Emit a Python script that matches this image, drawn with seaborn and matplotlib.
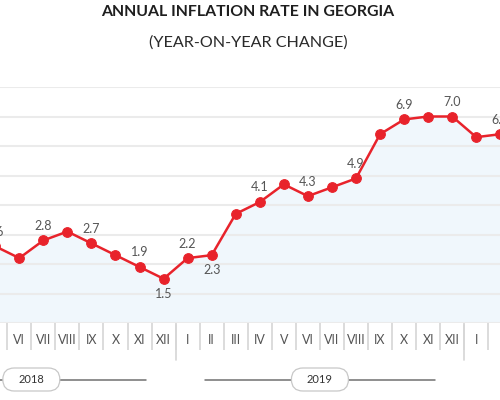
import matplotlib
matplotlib.use("Agg")
import numpy as np
import pandas as pd
import seaborn as sns
import matplotlib.pyplot as plt
from matplotlib.patches import FancyBboxPatch
from matplotlib.transforms import blended_transform_factory, IdentityTransform

# ---- data ----
months = ["V", "VI", "VII", "VIII", "IX", "X", "XI", "XII",
          "I", "II", "III", "IV", "V", "VI", "VII", "VIII", "IX", "X", "XI", "XII",
          "I", "II"]
years = [2018] * 8 + [2019] * 12 + [2020] * 2
inflation = [2.6, 2.2, 2.8, 3.1, 2.7, 2.3, 1.9, 1.5,
             2.2, 2.3, 3.7, 4.1, 4.7, 4.3, 4.6, 4.9, 6.4, 6.9, 7.0, 7.0,
             6.3, 6.4]
label_side = ["above", None, "above", None, "above", None, "above", "below",
              "above", "below", None, "above", None, "above", None, "above", None, "above", None, "above",
              None, "above"]
year_names = ["2018", "2019"]

title = "ANNUAL INFLATION RATE IN GEORGIA"
subtitle = "(YEAR-ON-YEAR CHANGE)"

df = pd.DataFrame({"idx": np.arange(len(months)), "month": months,
                   "year": years, "value": inflation})

sns.set_theme(style="white")
plt.rcParams["font.family"] = ["Lato", "DejaVu Sans"]

RED = "#e8232b"
FILL = "#f0f7fc"
GRID = "#ebebeb"
TXT = "#555555"

fig = plt.figure(figsize=(5, 4), dpi=100)
ax = fig.add_axes([0, 1 - 323 / 400, 1, 236 / 400])

ax.fill_between(df["idx"], df["value"], 0, color=FILL, zorder=1, lw=0)
sns.lineplot(data=df, x="idx", y="value", ax=ax, color=RED, lw=1.8,
             marker="o", markersize=7, markeredgecolor=RED, zorder=4)

ax.set_yticks(range(0, 9))
ax.yaxis.grid(True, color=GRID, lw=1.5, zorder=2)
ax.set_axisbelow(False)
for gl in ax.get_ygridlines():
    gl.set_zorder(2)
ax.set_yticklabels([])
ax.tick_params(axis="y", length=0)
for s in ax.spines.values():
    s.set_visible(False)
ax.set_xlabel("")
ax.set_ylabel("")

ax.set_xticks(df["idx"])
ax.set_xticklabels(df["month"], color=TXT, fontsize=9)
ax.set_xticks(np.arange(-0.5, len(months) + 0.5, 1), minor=True)
ax.tick_params(axis="x", which="major", length=0, pad=8)
ax.tick_params(axis="x", which="minor", length=19.5, width=1.2, color="#d6d6d6",
               direction="out", bottom=True)
ax.set_ylim(0, 8)
ax.set_xlim(0.1975, 20.988)

# value labels
for i, (v, side) in enumerate(zip(inflation, label_side)):
    if side is None:
        continue
    off = 10.5 if side == "above" else -11
    ax.annotate(f"{v:.1f}", (i, v), xytext=(0, off), textcoords="offset points",
                ha="center", va="center", fontsize=9, color=TXT, zorder=5,
                annotation_clip=False)

# year boundary separators (longer)
bt = blended_transform_factory(ax.transData, ax.transAxes)
dec_idx = [i for i in range(len(months) - 1) if years[i] != years[i + 1]]
for d in dec_idx:
    ax.plot([d + 0.5, d + 0.5], [-2 / 236, -37 / 236], transform=bt,
            color="#d6d6d6", lw=1.2, clip_on=False)
ax.set_xlim(0.1975, 20.988)

# year labels with lines
fig.canvas.draw()
row_y = 400 - 379.5
half_line = 4.78
for name, d in zip(year_names, dec_idx):
    center = d - 5.5
    x0 = ax.transData.transform((center - half_line, 0))[0]
    x1 = ax.transData.transform((center + half_line, 0))[0]
    cx = ax.transData.transform((center, 0))[0]
    fig.add_artist(plt.Line2D([x0, x1], [row_y, row_y], transform=IdentityTransform(),
                              color="#707070", lw=1.1, zorder=1))
    w, h = 57, 23
    box = FancyBboxPatch((cx - w / 2, row_y - h / 2), w, h,
                         boxstyle="round,pad=0,rounding_size=11.5",
                         transform=IdentityTransform(), facecolor="white",
                         edgecolor="#c8c8c8", lw=0.9, zorder=2)
    fig.add_artist(box)
    fig.text(cx / 500, row_y / 400, name, ha="center", va="center",
             fontsize=8, color="#333333", zorder=3)

fig.text(0.496, 1 - 12.5 / 400, title, ha="center", va="center",
         fontsize=11.4, fontweight="bold", color="#1e1e1e")
fig.text(0.497, 1 - 43 / 400, subtitle, ha="center", va="center",
         fontsize=11.6, color="#2a2a2a")

fig.savefig("out.png", dpi=100)
